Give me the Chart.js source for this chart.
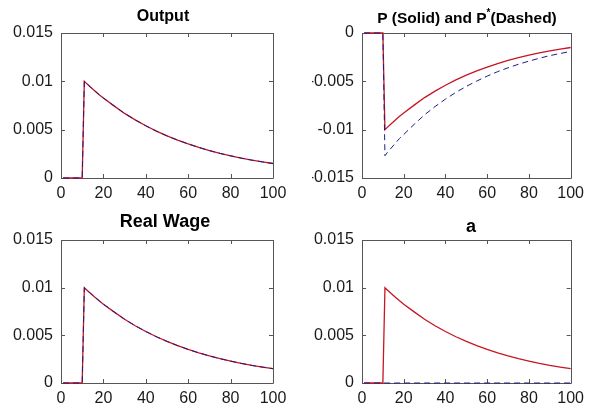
<!DOCTYPE html>
<html>
<head>
<meta charset="utf-8">
<script src="https://cdn.jsdelivr.net/npm/chart.js@4.4.1/dist/chart.umd.min.js"></script>
<style>
  html, body { margin: 0; padding: 0; background: #ffffff; }
  #wrap { position: relative; width: 590px; height: 407px; background: #ffffff; }
  #wrap canvas { position: absolute; left: 0; top: 0; }
</style>
</head>
<body>
<div id="wrap">
  <canvas id="c1" width="590" height="407"></canvas>
  <canvas id="c2" width="590" height="407"></canvas>
  <canvas id="c3" width="590" height="407"></canvas>
  <canvas id="c4" width="590" height="407"></canvas>
</div>
<script>
// ---- data ----
const periods      = [1, 10, 11, 12, 14, 16, 18, 20, 25, 30, 35, 40, 45, 50, 55, 60, 65, 70, 75, 80, 85, 90, 95, 100];
const outputIRF    = [0, 0, 0.0100, 0.00979, 0.00938, 0.00900, 0.00862, 0.00827, 0.00746, 0.00668, 0.00601, 0.00540, 0.00485, 0.00436, 0.00392, 0.00352, 0.00316, 0.00284, 0.00255, 0.00230, 0.00206, 0.00185, 0.00167, 0.00150];
const outputStarIRF= [0, 0, 0.0100, 0.00979, 0.00938, 0.00900, 0.00862, 0.00827, 0.00746, 0.00668, 0.00601, 0.00540, 0.00485, 0.00436, 0.00392, 0.00352, 0.00316, 0.00284, 0.00255, 0.00230, 0.00206, 0.00185, 0.00167, 0.00150];
const pIRF         = [0, 0, -0.0100, -0.00979, -0.00938, -0.00900, -0.00862, -0.00827, -0.00746, -0.00668, -0.00601, -0.00540, -0.00485, -0.00436, -0.00392, -0.00352, -0.00316, -0.00284, -0.00255, -0.00230, -0.00206, -0.00185, -0.00167, -0.00150];
const pStarIRF     = [0, 0, -0.0127, -0.0124, -0.0119, -0.0114, -0.0109, -0.0105, -0.00945, -0.00846, -0.00761, -0.00684, -0.00614, -0.00552, -0.00497, -0.00446, -0.00400, -0.00360, -0.00323, -0.00291, -0.00261, -0.00234, -0.00212, -0.00190];
const wageIRF      = [0, 0, 0.0100, 0.00979, 0.00938, 0.00900, 0.00862, 0.00827, 0.00746, 0.00668, 0.00601, 0.00540, 0.00485, 0.00436, 0.00392, 0.00352, 0.00316, 0.00284, 0.00255, 0.00230, 0.00206, 0.00185, 0.00167, 0.00150];
const wageStarIRF  = [0, 0, 0.0100, 0.00979, 0.00938, 0.00900, 0.00862, 0.00827, 0.00746, 0.00668, 0.00601, 0.00540, 0.00485, 0.00436, 0.00392, 0.00352, 0.00316, 0.00284, 0.00255, 0.00230, 0.00206, 0.00185, 0.00167, 0.00150];
const aIRF         = [0, 0, 0.0100, 0.00979, 0.00938, 0.00900, 0.00862, 0.00827, 0.00746, 0.00668, 0.00601, 0.00540, 0.00485, 0.00436, 0.00392, 0.00352, 0.00316, 0.00284, 0.00255, 0.00230, 0.00206, 0.00185, 0.00167, 0.00150];
const aStarIRF     = [0, 0, 0, 0, 0, 0, 0, 0, 0, 0, 0, 0, 0, 0, 0, 0, 0, 0, 0, 0, 0, 0, 0, 0];
const xTickValues  = [0, 20, 40, 60, 80, 100];
const yTicksPos    = [0, 0.005, 0.01, 0.015];
const yTicksNeg    = [-0.015, -0.01, -0.005, 0];
const titles       = ["Output", "P (Solid) and P*(Dashed)", "Real Wage", "a"];

// ---- styling ----
const RED = 'rgb(200,20,35)';
const NAVY = 'rgb(30,30,130)';
const AXIS = '#555555';
const FONT = '"Liberation Sans", Arial, Helvetica, sans-serif';

function pts(ys) { return periods.map((x, i) => ({ x: x, y: ys[i] })); }

const boxPlugin = {
  id: 'box',
  beforeDatasetsDraw(chart) {
    const { ctx, chartArea: a } = chart;
    const xs = chart.scales.x, ys = chart.scales.y;
    ctx.save();
    ctx.strokeStyle = AXIS;
    ctx.lineWidth = 1;
    ctx.beginPath();
    ctx.rect(Math.round(a.left) + 0.5, Math.round(a.top) + 0.5,
             Math.round(a.right) - Math.round(a.left), Math.round(a.bottom) - Math.round(a.top));
    ctx.stroke();
    const L = 4;
    ctx.beginPath();
    xs.ticks.forEach(t => {
      const px = Math.round(xs.getPixelForValue(t.value)) + 0.5;
      ctx.moveTo(px, a.bottom); ctx.lineTo(px, a.bottom - L);
      ctx.moveTo(px, a.top); ctx.lineTo(px, a.top + L);
    });
    ys.ticks.forEach(t => {
      const py = Math.round(ys.getPixelForValue(t.value)) + 0.5;
      ctx.moveTo(a.left, py); ctx.lineTo(a.left + L, py);
      ctx.moveTo(a.right, py); ctx.lineTo(a.right - L, py);
    });
    ctx.stroke();
    ctx.restore();
  },
  afterDraw(chart) {
    const o = chart.options.plugins.box;
    if (!o) return;
    const ctx = chart.ctx;
    ctx.save();
    ctx.fillStyle = '#000';
    ctx.textBaseline = 'alphabetic';
    const segs = o.segments;
    const fontMain = 'bold ' + o.size + 'px ' + FONT;
    const fontSup = 'bold ' + Math.round(o.size * 0.65) + 'px ' + FONT;
    let total = 0;
    segs.forEach(s => { ctx.font = s.sup ? fontSup : fontMain; total += ctx.measureText(s.t).width; });
    let x = o.cx - total / 2;
    ctx.textAlign = 'left';
    segs.forEach(s => {
      ctx.font = s.sup ? fontSup : fontMain;
      ctx.fillText(s.t, x, s.sup ? o.baseline - o.size * 0.42 : o.baseline);
      x += ctx.measureText(s.t).width;
    });
    ctx.restore();
  }
};

function fmt(v) { return String(Number(v.toFixed(4))); }

function makeChart(id, area, datasets, yTicks, titleCfg) {
  const W = 50, H = 30;
  return new Chart(document.getElementById(id), {
    type: 'line',
    data: { datasets: datasets },
    plugins: [boxPlugin],
    options: {
      responsive: false,
      animation: false,
      devicePixelRatio: 1,
      layout: { padding: { left: area.left - W, top: area.top, right: 590 - area.right, bottom: 407 - area.bottom - H } },
      plugins: { legend: { display: false }, tooltip: { enabled: false }, title: { display: false }, box: titleCfg },
      elements: { point: { radius: 0 }, line: { tension: 0 } },
      scales: {
        x: {
          type: 'linear', min: 0, max: 100,
          grid: { display: false, drawTicks: false },
          border: { display: false },
          afterFit: s => { s.height = H; },
          afterBuildTicks: s => { s.ticks = xTickValues.map(v => ({ value: v })); },
          ticks: { color: '#1a1a1a', font: { family: FONT, size: 16 }, padding: 6, maxRotation: 0, autoSkip: false, callback: v => fmt(v) }
        },
        y: {
          type: 'linear', min: yTicks[0], max: yTicks[yTicks.length - 1],
          grid: { display: false, drawTicks: false },
          border: { display: false },
          afterFit: s => { s.width = W; },
          afterBuildTicks: s => { s.ticks = yTicks.map(v => ({ value: v })); },
          ticks: { color: '#1a1a1a', font: { family: FONT, size: 16 }, padding: 8, autoSkip: false, callback: v => fmt(v) }
        }
      }
    }
  });
}

function dashed(ys) { return { data: pts(ys), borderColor: NAVY, borderWidth: 1, borderDash: [6, 4], fill: false, clip: false }; }
function solid(ys)  { return { data: pts(ys), borderColor: RED, borderWidth: 1.3, fill: false, clip: false }; }

makeChart('c1', { left: 61, top: 33, right: 273, bottom: 178 },
  [dashed(outputStarIRF), solid(outputIRF)], yTicksPos,
  { cx: 163, baseline: 21, size: 16, segments: [{ t: titles[0] }] });

makeChart('c2', { left: 362, top: 33, right: 573, bottom: 178 },
  [dashed(pStarIRF), solid(pIRF)], yTicksNeg,
  { cx: 467, baseline: 23, size: 15.5, segments: [{ t: 'P (Solid) and P' }, { t: '*', sup: true }, { t: '(Dashed)' }] });

makeChart('c3', { left: 61, top: 240, right: 273, bottom: 383 },
  [dashed(wageStarIRF), solid(wageIRF)], yTicksPos,
  { cx: 165, baseline: 227, size: 18, segments: [{ t: titles[2] }] });

makeChart('c4', { left: 362, top: 240, right: 573, bottom: 383 },
  [dashed(aStarIRF), solid(aIRF)], yTicksPos,
  { cx: 471, baseline: 232, size: 18, segments: [{ t: titles[3] }] });
</script>
</body>
</html>
